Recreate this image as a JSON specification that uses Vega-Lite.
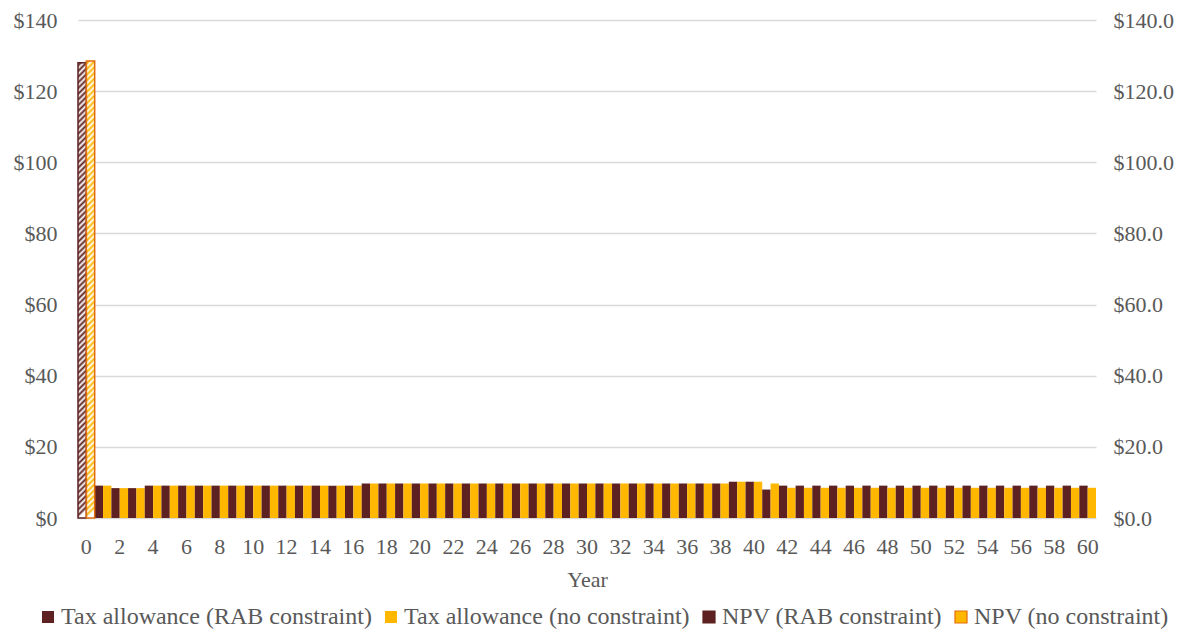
{
"$schema": "https://vega.github.io/schema/vega-lite/v6.json",
"width": 1018, "height": 498,
"autosize": {"type": "none"},
"padding": {"left": 78, "top": 20, "right": 92, "bottom": 112},
"background": "white",
"config": {
 "view": {"stroke": null},
 "font": "Liberation Serif",
 "axis": {"labelFont": "Liberation Serif", "titleFont": "Liberation Serif", "labelFontSize": 22, "titleFontSize": 22, "labelColor": "#595959", "titleColor": "#595959", "titleFontWeight": "normal", "ticks": false, "domain": false}
},
"datasets": {
 "tax": [
  {"year":1,"rab":9.1,"none":9.1},{"year":2,"rab":8.4,"none":8.4},{"year":3,"rab":8.4,"none":8.4},{"year":4,"rab":9.1,"none":9.1},{"year":5,"rab":9.1,"none":9.1},{"year":6,"rab":9.1,"none":9.1},{"year":7,"rab":9.1,"none":9.1},{"year":8,"rab":9.1,"none":9.1},{"year":9,"rab":9.1,"none":9.1},{"year":10,"rab":9.1,"none":9.1},
  {"year":11,"rab":9.1,"none":9.1},{"year":12,"rab":9.1,"none":9.1},{"year":13,"rab":9.1,"none":9.1},{"year":14,"rab":9.1,"none":9.1},{"year":15,"rab":9.1,"none":9.1},{"year":16,"rab":9.1,"none":9.1},{"year":17,"rab":9.7,"none":9.7},{"year":18,"rab":9.7,"none":9.7},{"year":19,"rab":9.7,"none":9.7},{"year":20,"rab":9.7,"none":9.7},
  {"year":21,"rab":9.7,"none":9.7},{"year":22,"rab":9.7,"none":9.7},{"year":23,"rab":9.7,"none":9.7},{"year":24,"rab":9.7,"none":9.7},{"year":25,"rab":9.7,"none":9.7},{"year":26,"rab":9.7,"none":9.7},{"year":27,"rab":9.7,"none":9.7},{"year":28,"rab":9.7,"none":9.7},{"year":29,"rab":9.7,"none":9.7},{"year":30,"rab":9.7,"none":9.7},
  {"year":31,"rab":9.7,"none":9.7},{"year":32,"rab":9.7,"none":9.7},{"year":33,"rab":9.7,"none":9.7},{"year":34,"rab":9.7,"none":9.7},{"year":35,"rab":9.7,"none":9.7},{"year":36,"rab":9.7,"none":9.7},{"year":37,"rab":9.7,"none":9.7},{"year":38,"rab":9.7,"none":9.7},{"year":39,"rab":10.2,"none":10.2},{"year":40,"rab":10.2,"none":10.2},
  {"year":41,"rab":8.0,"none":9.7},{"year":42,"rab":9.1,"none":8.5},{"year":43,"rab":9.1,"none":8.5},{"year":44,"rab":9.1,"none":8.5},{"year":45,"rab":9.1,"none":8.5},{"year":46,"rab":9.1,"none":8.5},{"year":47,"rab":9.1,"none":8.5},{"year":48,"rab":9.1,"none":8.5},{"year":49,"rab":9.1,"none":8.5},{"year":50,"rab":9.1,"none":8.5},
  {"year":51,"rab":9.1,"none":8.5},{"year":52,"rab":9.1,"none":8.5},{"year":53,"rab":9.1,"none":8.5},{"year":54,"rab":9.1,"none":8.5},{"year":55,"rab":9.1,"none":8.5},{"year":56,"rab":9.1,"none":8.5},{"year":57,"rab":9.1,"none":8.5},{"year":58,"rab":9.1,"none":8.5},{"year":59,"rab":9.1,"none":8.5},{"year":60,"rab":9.1,"none":8.5}
 ],
 "npv": [
  {"year":0,"constraint":"rab","value":128},
  {"year":0,"constraint":"none","value":128.5}
 ]
},
"layer": [
 {
  "data": {"name": "tax"},
  "transform": [{"fold": ["rab", "none"], "as": ["constraint", "value"]}],
  "mark": {"type": "bar"},
  "encoding": {
   "x": {"field": "year", "type": "ordinal",
    "scale": {"domain": [0,1,2,3,4,5,6,7,8,9,10,11,12,13,14,15,16,17,18,19,20,21,22,23,24,25,26,27,28,29,30,31,32,33,34,35,36,37,38,39,40,41,42,43,44,45,46,47,48,49,50,51,52,53,54,55,56,57,58,59,60], "paddingInner": 0, "paddingOuter": 0},
    "axis": {"values": [0,2,4,6,8,10,12,14,16,18,20,22,24,26,28,30,32,34,36,38,40,42,44,46,48,50,52,54,56,58,60], "labelAngle": 0, "labelPadding": 18, "title": "Year", "titlePadding": 12, "grid": false}},
   "xOffset": {"field": "constraint", "type": "nominal", "scale": {"domain": ["rab", "none"], "paddingInner": 0, "paddingOuter": 0}},
   "y": {"field": "value", "type": "quantitative", "scale": {"domain": [0, 140], "nice": false},
    "axis": {"values": [0,20,40,60,80,100,120,140], "format": "$.0f", "grid": true, "gridColor": "#D9D9D9", "gridWidth": 1.3, "labelPadding": 21, "title": null}},
   "color": {"field": "constraint", "type": "nominal",
    "scale": {"domain": ["rab", "none", "npv_rab", "npv_none"], "range": ["#5E2121", "#FFB700", "#5E2121", "#FFB700"]},
    "legend": {"orient": "none", "legendX": -42, "legendY": 585, "direction": "horizontal", "columns": 4, "title": null, "padding": 0,
     "symbolType": "square", "symbolSize": 144, "symbolStrokeWidth": 1.2, "labelFont": "Liberation Serif", "labelFontSize": 24, "labelColor": "#595959", "labelOffset": 1, "columnPadding": 7, "labelLimit": 500,
     "labelExpr": "datum.value === 'rab' ? 'Tax allowance (RAB constraint)' : datum.value === 'none' ? 'Tax allowance (no constraint)' : datum.value === 'npv_rab' ? 'NPV (RAB constraint)' : 'NPV (no constraint)'",
     "encode": {"symbols": {"update": {
      "fill": {"signal": "datum.value === 'npv_rab' ? {gradient: 'linear', x1: 0, y1: 0, x2: 1, y2: 1, stops: [{offset: 0, color: '#5E2121'}, {offset: 0.28, color: '#5E2121'}, {offset: 0.28, color: '#ffffff'}, {offset: 0.4, color: '#ffffff'}, {offset: 0.4, color: '#5E2121'}, {offset: 0.6, color: '#5E2121'}, {offset: 0.6, color: '#ffffff'}, {offset: 0.72, color: '#ffffff'}, {offset: 0.72, color: '#5E2121'}, {offset: 1, color: '#5E2121'}]} : datum.value === 'npv_none' ? {gradient: 'linear', x1: 0, y1: 0, x2: 1, y2: 1, stops: [{offset: 0, color: '#FFB700'}, {offset: 0.28, color: '#FFB700'}, {offset: 0.28, color: '#ffffff'}, {offset: 0.4, color: '#ffffff'}, {offset: 0.4, color: '#FFB700'}, {offset: 0.6, color: '#FFB700'}, {offset: 0.6, color: '#ffffff'}, {offset: 0.72, color: '#ffffff'}, {offset: 0.72, color: '#FFB700'}, {offset: 1, color: '#FFB700'}]} : datum.value === 'rab' ? '#5E2121' : '#FFB700'"},
      "stroke": [
       {"test": "datum.value === 'npv_rab'", "value": "#5E2121"},
       {"test": "datum.value === 'npv_none'", "value": "#E36C0A"},
       {"value": "transparent"}
      ]
     }}}
    }}
  }
 },
 {
  "data": {"name": "npv"},
  "layer": [
   {
    "mark": {"type": "bar"},
    "encoding": {
     "x": {"field": "year", "type": "ordinal"},
     "xOffset": {"field": "constraint", "type": "nominal"},
     "y": {"field": "value", "type": "quantitative", "scale": {"domain": [0, 140], "nice": false},
      "axis": {"orient": "right", "values": [0,20,40,60,80,100,120,140], "format": "$.1f", "grid": false, "labelPadding": 17, "title": null}},
     "fill": {"condition": {"test": "datum.constraint === 'rab'", "value": "#5E2121"}, "value": "#FFB700"}
    }
   },
   {
    "mark": {"type": "bar", "strokeWidth": 1.5,
     "fill": {"gradient": "linear", "x1": 0, "y1": 0, "x2": 0.0183, "y2": 1, "stops": [
      {"offset":0,"color":"#ffffff"},{"offset":0.00625,"color":"rgba(255,255,255,0)"},{"offset":0.0125,"color":"#ffffff"},{"offset":0.01875,"color":"rgba(255,255,255,0)"},{"offset":0.025,"color":"#ffffff"},{"offset":0.03125,"color":"rgba(255,255,255,0)"},{"offset":0.0375,"color":"#ffffff"},{"offset":0.04375,"color":"rgba(255,255,255,0)"},{"offset":0.05,"color":"#ffffff"},{"offset":0.05625,"color":"rgba(255,255,255,0)"},{"offset":0.0625,"color":"#ffffff"},{"offset":0.06875,"color":"rgba(255,255,255,0)"},{"offset":0.075,"color":"#ffffff"},{"offset":0.08125,"color":"rgba(255,255,255,0)"},{"offset":0.0875,"color":"#ffffff"},{"offset":0.09375,"color":"rgba(255,255,255,0)"},
      {"offset":0.1,"color":"#ffffff"},{"offset":0.10625,"color":"rgba(255,255,255,0)"},{"offset":0.1125,"color":"#ffffff"},{"offset":0.11875,"color":"rgba(255,255,255,0)"},{"offset":0.125,"color":"#ffffff"},{"offset":0.13125,"color":"rgba(255,255,255,0)"},{"offset":0.1375,"color":"#ffffff"},{"offset":0.14375,"color":"rgba(255,255,255,0)"},{"offset":0.15,"color":"#ffffff"},{"offset":0.15625,"color":"rgba(255,255,255,0)"},{"offset":0.1625,"color":"#ffffff"},{"offset":0.16875,"color":"rgba(255,255,255,0)"},{"offset":0.175,"color":"#ffffff"},{"offset":0.18125,"color":"rgba(255,255,255,0)"},{"offset":0.1875,"color":"#ffffff"},{"offset":0.19375,"color":"rgba(255,255,255,0)"},
      {"offset":0.2,"color":"#ffffff"},{"offset":0.20625,"color":"rgba(255,255,255,0)"},{"offset":0.2125,"color":"#ffffff"},{"offset":0.21875,"color":"rgba(255,255,255,0)"},{"offset":0.225,"color":"#ffffff"},{"offset":0.23125,"color":"rgba(255,255,255,0)"},{"offset":0.2375,"color":"#ffffff"},{"offset":0.24375,"color":"rgba(255,255,255,0)"},{"offset":0.25,"color":"#ffffff"},{"offset":0.25625,"color":"rgba(255,255,255,0)"},{"offset":0.2625,"color":"#ffffff"},{"offset":0.26875,"color":"rgba(255,255,255,0)"},{"offset":0.275,"color":"#ffffff"},{"offset":0.28125,"color":"rgba(255,255,255,0)"},{"offset":0.2875,"color":"#ffffff"},{"offset":0.29375,"color":"rgba(255,255,255,0)"},
      {"offset":0.3,"color":"#ffffff"},{"offset":0.30625,"color":"rgba(255,255,255,0)"},{"offset":0.3125,"color":"#ffffff"},{"offset":0.31875,"color":"rgba(255,255,255,0)"},{"offset":0.325,"color":"#ffffff"},{"offset":0.33125,"color":"rgba(255,255,255,0)"},{"offset":0.3375,"color":"#ffffff"},{"offset":0.34375,"color":"rgba(255,255,255,0)"},{"offset":0.35,"color":"#ffffff"},{"offset":0.35625,"color":"rgba(255,255,255,0)"},{"offset":0.3625,"color":"#ffffff"},{"offset":0.36875,"color":"rgba(255,255,255,0)"},{"offset":0.375,"color":"#ffffff"},{"offset":0.38125,"color":"rgba(255,255,255,0)"},{"offset":0.3875,"color":"#ffffff"},{"offset":0.39375,"color":"rgba(255,255,255,0)"},
      {"offset":0.4,"color":"#ffffff"},{"offset":0.40625,"color":"rgba(255,255,255,0)"},{"offset":0.4125,"color":"#ffffff"},{"offset":0.41875,"color":"rgba(255,255,255,0)"},{"offset":0.425,"color":"#ffffff"},{"offset":0.43125,"color":"rgba(255,255,255,0)"},{"offset":0.4375,"color":"#ffffff"},{"offset":0.44375,"color":"rgba(255,255,255,0)"},{"offset":0.45,"color":"#ffffff"},{"offset":0.45625,"color":"rgba(255,255,255,0)"},{"offset":0.4625,"color":"#ffffff"},{"offset":0.46875,"color":"rgba(255,255,255,0)"},{"offset":0.475,"color":"#ffffff"},{"offset":0.48125,"color":"rgba(255,255,255,0)"},{"offset":0.4875,"color":"#ffffff"},{"offset":0.49375,"color":"rgba(255,255,255,0)"},
      {"offset":0.5,"color":"#ffffff"},{"offset":0.50625,"color":"rgba(255,255,255,0)"},{"offset":0.5125,"color":"#ffffff"},{"offset":0.51875,"color":"rgba(255,255,255,0)"},{"offset":0.525,"color":"#ffffff"},{"offset":0.53125,"color":"rgba(255,255,255,0)"},{"offset":0.5375,"color":"#ffffff"},{"offset":0.54375,"color":"rgba(255,255,255,0)"},{"offset":0.55,"color":"#ffffff"},{"offset":0.55625,"color":"rgba(255,255,255,0)"},{"offset":0.5625,"color":"#ffffff"},{"offset":0.56875,"color":"rgba(255,255,255,0)"},{"offset":0.575,"color":"#ffffff"},{"offset":0.58125,"color":"rgba(255,255,255,0)"},{"offset":0.5875,"color":"#ffffff"},{"offset":0.59375,"color":"rgba(255,255,255,0)"},
      {"offset":0.6,"color":"#ffffff"},{"offset":0.60625,"color":"rgba(255,255,255,0)"},{"offset":0.6125,"color":"#ffffff"},{"offset":0.61875,"color":"rgba(255,255,255,0)"},{"offset":0.625,"color":"#ffffff"},{"offset":0.63125,"color":"rgba(255,255,255,0)"},{"offset":0.6375,"color":"#ffffff"},{"offset":0.64375,"color":"rgba(255,255,255,0)"},{"offset":0.65,"color":"#ffffff"},{"offset":0.65625,"color":"rgba(255,255,255,0)"},{"offset":0.6625,"color":"#ffffff"},{"offset":0.66875,"color":"rgba(255,255,255,0)"},{"offset":0.675,"color":"#ffffff"},{"offset":0.68125,"color":"rgba(255,255,255,0)"},{"offset":0.6875,"color":"#ffffff"},{"offset":0.69375,"color":"rgba(255,255,255,0)"},
      {"offset":0.7,"color":"#ffffff"},{"offset":0.70625,"color":"rgba(255,255,255,0)"},{"offset":0.7125,"color":"#ffffff"},{"offset":0.71875,"color":"rgba(255,255,255,0)"},{"offset":0.725,"color":"#ffffff"},{"offset":0.73125,"color":"rgba(255,255,255,0)"},{"offset":0.7375,"color":"#ffffff"},{"offset":0.74375,"color":"rgba(255,255,255,0)"},{"offset":0.75,"color":"#ffffff"},{"offset":0.75625,"color":"rgba(255,255,255,0)"},{"offset":0.7625,"color":"#ffffff"},{"offset":0.76875,"color":"rgba(255,255,255,0)"},{"offset":0.775,"color":"#ffffff"},{"offset":0.78125,"color":"rgba(255,255,255,0)"},{"offset":0.7875,"color":"#ffffff"},{"offset":0.79375,"color":"rgba(255,255,255,0)"},
      {"offset":0.8,"color":"#ffffff"},{"offset":0.80625,"color":"rgba(255,255,255,0)"},{"offset":0.8125,"color":"#ffffff"},{"offset":0.81875,"color":"rgba(255,255,255,0)"},{"offset":0.825,"color":"#ffffff"},{"offset":0.83125,"color":"rgba(255,255,255,0)"},{"offset":0.8375,"color":"#ffffff"},{"offset":0.84375,"color":"rgba(255,255,255,0)"},{"offset":0.85,"color":"#ffffff"},{"offset":0.85625,"color":"rgba(255,255,255,0)"},{"offset":0.8625,"color":"#ffffff"},{"offset":0.86875,"color":"rgba(255,255,255,0)"},{"offset":0.875,"color":"#ffffff"},{"offset":0.88125,"color":"rgba(255,255,255,0)"},{"offset":0.8875,"color":"#ffffff"},{"offset":0.89375,"color":"rgba(255,255,255,0)"},
      {"offset":0.9,"color":"#ffffff"},{"offset":0.90625,"color":"rgba(255,255,255,0)"},{"offset":0.9125,"color":"#ffffff"},{"offset":0.91875,"color":"rgba(255,255,255,0)"},{"offset":0.925,"color":"#ffffff"},{"offset":0.93125,"color":"rgba(255,255,255,0)"},{"offset":0.9375,"color":"#ffffff"},{"offset":0.94375,"color":"rgba(255,255,255,0)"},{"offset":0.95,"color":"#ffffff"},{"offset":0.95625,"color":"rgba(255,255,255,0)"},{"offset":0.9625,"color":"#ffffff"},{"offset":0.96875,"color":"rgba(255,255,255,0)"},{"offset":0.975,"color":"#ffffff"},{"offset":0.98125,"color":"rgba(255,255,255,0)"},{"offset":0.9875,"color":"#ffffff"},{"offset":0.99375,"color":"rgba(255,255,255,0)"},
      {"offset":1,"color":"#ffffff"}
     ]}},
    "encoding": {
     "x": {"field": "year", "type": "ordinal"},
     "xOffset": {"field": "constraint", "type": "nominal"},
     "y": {"field": "value", "type": "quantitative", "scale": {"domain": [0, 140], "nice": false},
      "axis": {"orient": "right", "values": [0,20,40,60,80,100,120,140], "format": "$.1f", "grid": false, "labelPadding": 17, "title": null}},
     "stroke": {"condition": {"test": "datum.constraint === 'rab'", "value": "#5E2121"}, "value": "#E36C0A"}
    }
   }
  ]
 }
],
"resolve": {"scale": {"y": "independent"}}
}
